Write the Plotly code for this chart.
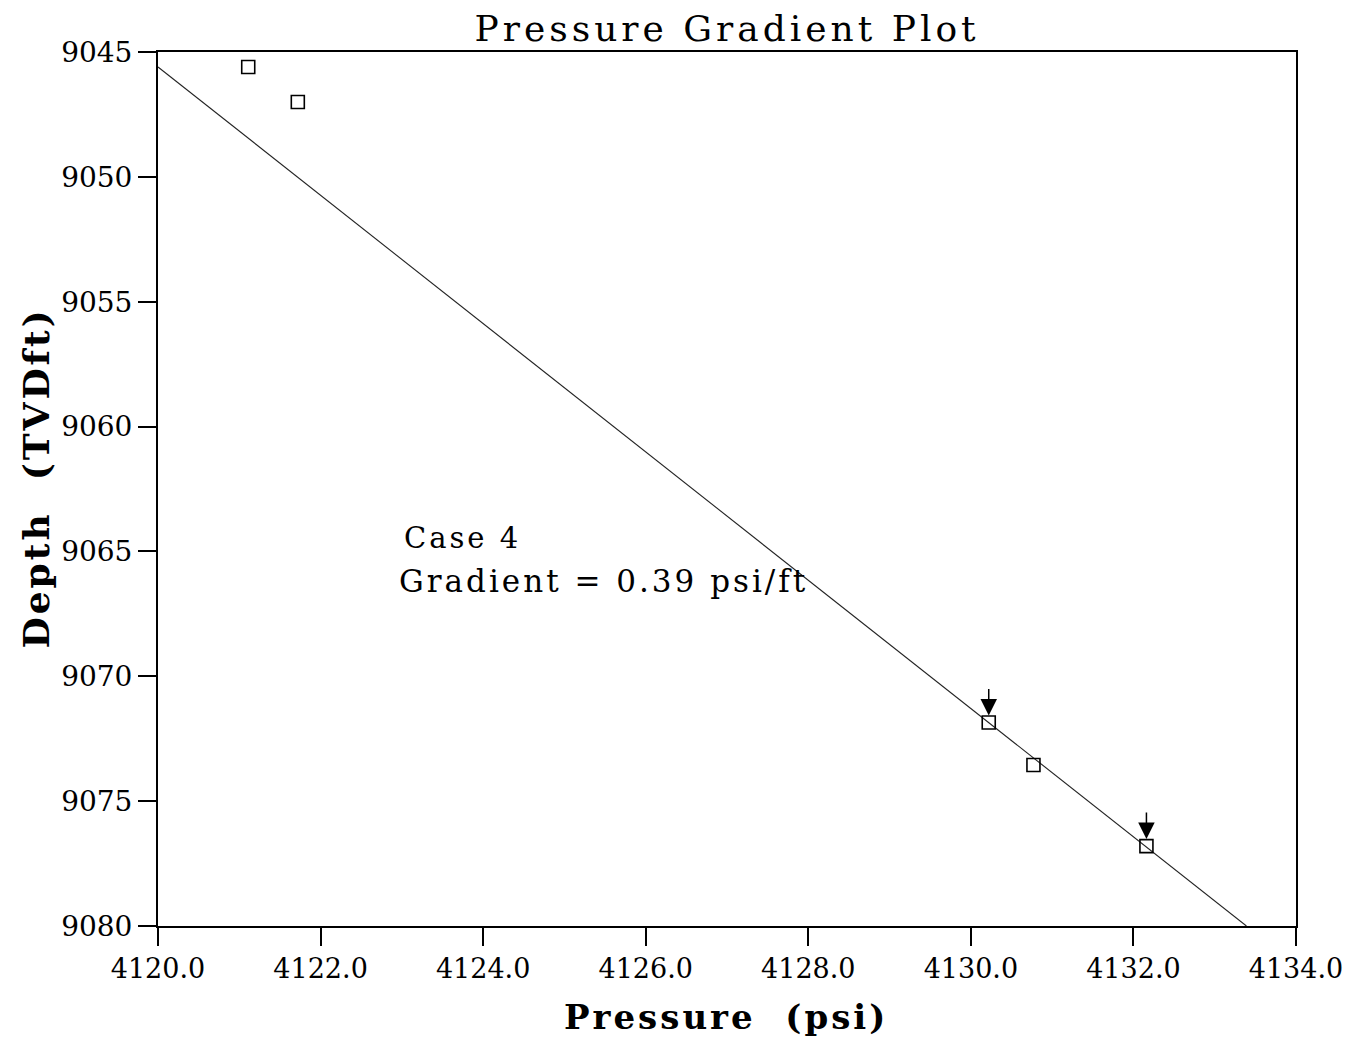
import plotly.graph_objects as go

# Measured pressure points
pressure = [4121.11, 4121.72, 4130.22, 4130.77, 4132.16]
depth = [9045.6, 9047.0, 9071.85, 9073.55, 9076.8]

# Fitted gradient line end points
line_pressure = [4120.0, 4133.39]
line_depth = [9045.6, 9080.0]

# Points marked with arrows (indices into the lists above)
arrow_idx = [2, 4]

x_ticks = [4120, 4122, 4124, 4126, 4128, 4130, 4132, 4134]
x_ticklabels = ["4120.0", "4122.0", "4124.0", "4126.0", "4128.0", "4130.0", "4132.0", "4134.0"]
y_ticks = [9045, 9050, 9055, 9060, 9065, 9070, 9075, 9080]
y_ticklabels = [str(v) for v in y_ticks]

FONT = "DejaVu Serif"


def spaced(txt, px):
    return f'<span style="letter-spacing:{px}px">{txt}</span>'


fig = go.Figure()
fig.add_trace(go.Scatter(
    x=line_pressure, y=line_depth, mode="lines",
    line=dict(color="#222222", width=1.1), showlegend=False, hoverinfo="skip"))
fig.add_trace(go.Scatter(
    x=pressure, y=depth, mode="markers",
    marker=dict(symbol="square-open", size=13, color="black", line=dict(width=1.6, color="black")),
    showlegend=False))

annotations = []
for i in arrow_idx:
    annotations.append(dict(
        x=pressure[i], y=depth[i], xref="x", yref="y", text="", showarrow=True,
        ax=0, ay=-35, arrowhead=2, arrowsize=2.2, arrowwidth=1.5, arrowcolor="black",
        standoff=7))

annotations.append(dict(x=4123.0, y=9064.45, xref="x", yref="y", text=spaced("Case 4", 3),
                        showarrow=False, xanchor="left", yanchor="middle",
                        font=dict(family=FONT, size=29, color="black")))
annotations.append(dict(x=4122.94, y=9066.2, xref="x", yref="y",
                        text=spaced("Gradient = 0.39 psi/ft", 3),
                        showarrow=False, xanchor="left", yanchor="middle",
                        font=dict(family=FONT, size=31, color="black")))
# axis titles
annotations.append(dict(x=-0.1076, y=0.5126, xref="paper", yref="paper",
                        text="<b>" + spaced("Depth  (TVDft)", 3) + "</b>", textangle=-90,
                        showarrow=False, xanchor="center", yanchor="middle",
                        font=dict(family=FONT, size=36, color="black")))
annotations.append(dict(x=0.4987, y=-0.1041, xref="paper", yref="paper",
                        text="<b>" + spaced("Pressure  (psi)", 3) + "</b>",
                        showarrow=False, xanchor="center", yanchor="middle",
                        font=dict(family=FONT, size=34, color="black")))

fig.update_layout(
    width=1347, height=1040,
    margin=dict(l=150, r=54, t=44, b=122),
    paper_bgcolor="white", plot_bgcolor="white",
    title=dict(text=spaced("Pressure Gradient Plot", 4), x=719/1347, xanchor="center",
               y=1 - 20/1040, yanchor="middle", yref="container",
               font=dict(family=FONT, size=36, color="black")),
    annotations=annotations,
    font=dict(family=FONT, color="black"),
)

fig.update_xaxes(
    range=[4120, 4134], tickmode="array", tickvals=x_ticks, ticktext=x_ticklabels,
    ticks="outside", ticklen=18, tickwidth=2, tickcolor="black",
    showline=True, linewidth=2, linecolor="black", mirror=True,
    showgrid=False, zeroline=False,
    tickfont=dict(family=FONT, size=27, color="black"),
)
fig.update_yaxes(
    range=[9080, 9045], tickmode="array", tickvals=y_ticks, ticktext=y_ticklabels,
    ticks="outside", ticklen=18, tickwidth=2, tickcolor="black",
    showline=True, linewidth=2, linecolor="black", mirror=True,
    showgrid=False, zeroline=False,
    tickfont=dict(family=FONT, size=28, color="black"),
)

fig.write_html("out.html")
